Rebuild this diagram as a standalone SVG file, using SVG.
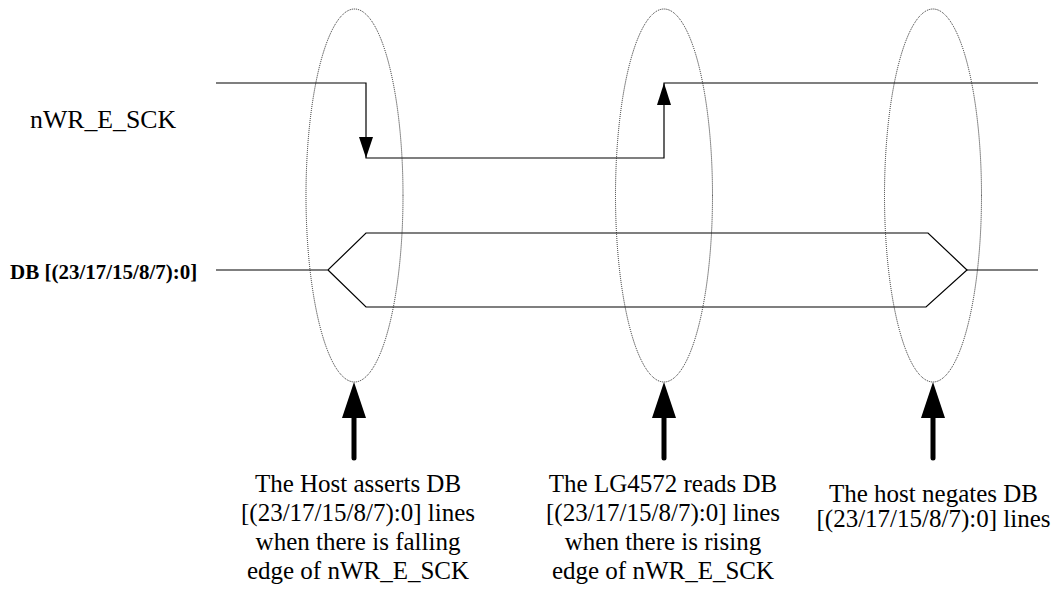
<svg xmlns="http://www.w3.org/2000/svg" width="1062" height="595" viewBox="0 0 1062 595">
<style>
.sig{fill:none;stroke:#000;stroke-width:1.2}
.ell{fill:none;stroke:#222;stroke-width:1;stroke-dasharray:1 1}
.head{fill:#000;stroke:none}
.shaft{stroke:#000;stroke-width:5;stroke-linecap:round}
.lbl{font-family:"Liberation Serif","Times New Roman",serif;font-size:25.8px;fill:#000}
.lblb{font-family:"Liberation Serif","Times New Roman",serif;font-size:21px;font-weight:bold;fill:#000}
.note{font-family:"Liberation Serif","Times New Roman",serif;font-size:25px;fill:#000;text-anchor:middle}
</style>
<rect width="1062" height="595" fill="#fff"/>
<g id="signal-labels">
<text class="lbl" x="30" y="128">nWR_E_SCK</text>
<text class="lblb" x="10" y="279">DB [(23/17/15/8/7):0]</text>
</g>
<g id="connectors">
<polyline class="sig" points="216,83 366,83 366,158 664,158 664,83 1038,83"/>
<polygon class="head" points="366,158 359,137 373,137"/>
<polygon class="head" points="664,83 657,105 671,105"/>
<polyline class="sig" points="216,270 328,270 366,233 928,233 967,270 926,307 366,307 328,270"/>
<line class="sig" x1="967" y1="270" x2="1038" y2="270"/>
<line class="shaft" x1="354" y1="416" x2="354" y2="458"/>
<polygon class="head" points="354,382 342,418 366,418"/>
<line class="shaft" x1="664" y1="416" x2="664" y2="458"/>
<polygon class="head" points="664,382 652,418 676,418"/>
<line class="shaft" x1="933" y1="416" x2="933" y2="458"/>
<polygon class="head" points="933,382 921,418 945,418"/>
</g>
<g id="ellipse-falling">
<ellipse class="ell" cx="354.5" cy="195.5" rx="48.5" ry="186.5"/>
</g>
<g id="ellipse-rising">
<ellipse class="ell" cx="664" cy="195.5" rx="48.5" ry="186.5"/>
</g>
<g id="ellipse-negate">
<ellipse class="ell" cx="933" cy="195.5" rx="48.5" ry="186.5"/>
</g>
<g id="note-assert">
<text class="note" x="358" y="491.5">The Host asserts DB</text>
<text class="note" x="358" y="521">[(23/17/15/8/7):0] lines</text>
<text class="note" x="358" y="550">when there is falling</text>
<text class="note" x="358" y="578.5">edge of nWR_E_SCK</text>
</g>
<g id="note-read">
<text class="note" x="663" y="491.5">The LG4572 reads DB</text>
<text class="note" x="663" y="521">[(23/17/15/8/7):0] lines</text>
<text class="note" x="663" y="550">when there is rising</text>
<text class="note" x="663" y="578.5">edge of nWR_E_SCK</text>
</g>
<g id="note-negate">
<text class="note" x="933.5" y="501.5">The host negates DB</text>
<text class="note" x="933.5" y="527">[(23/17/15/8/7):0] lines</text>
</g>
</svg>
